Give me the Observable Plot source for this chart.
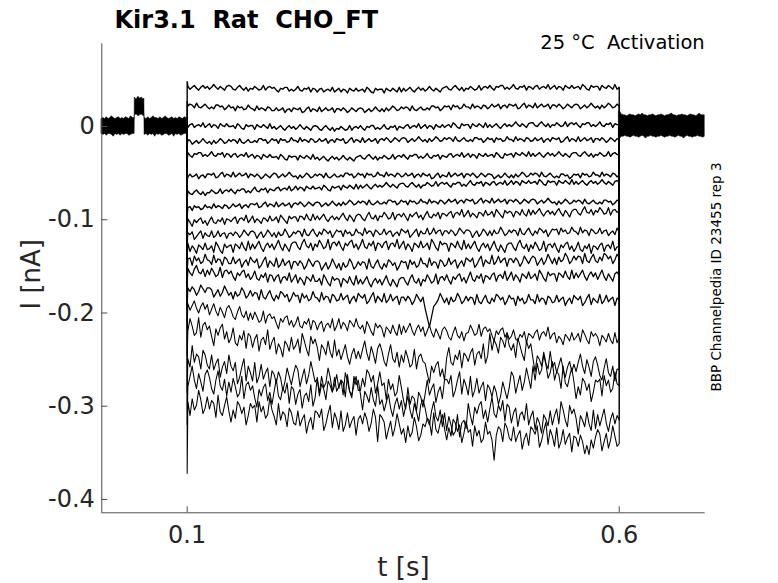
<!DOCTYPE html>
<html>
<head>
<meta charset="utf-8">
<script src="https://cdn.jsdelivr.net/npm/d3@7"></script>
<script src="https://cdn.jsdelivr.net/npm/@observablehq/plot@0.6"></script>
<style>
  html, body { margin: 0; padding: 0; background: #fff; }
  svg text { white-space: pre; }
</style>
</head>
<body>
<div id="chart"></div>
<script>
// ---- text ----
const titleText = "Kir3.1  Rat  CHO_FT";
const conditionText = "25 °C  Activation";
const sideText = "BBP Channelpedia ID 23455 rep 3";
const xLabel = "t [s]";
const yLabel = "I [nA]";

// ---- axes ----
const xDomain = [0.0012, 0.6995];
const yDomain = [-0.4143, 0.0887];
const xTicks = [0.1, 0.6];
const yTicks = [0, -0.1, -0.2, -0.3, -0.4];

// ---- step protocol (s) ----
const stepOn = 0.1;
const stepOff = 0.6;
const firstSample = 0.1008;

// ---- holding-current noise band (pA) before the step ----
const preT  = [0.001,0.003,0.005,0.007,0.009,0.011,0.013,0.015,0.017,0.019,0.021,0.023,0.025,0.027,0.029,0.031,0.033,0.035,0.037,0.0392,
               0.0394,0.0415,0.0435,0.0455,0.0475,0.0495,0.0505,
               0.0507,0.053,0.055,0.057,0.059,0.061,0.063,0.065,0.067,0.069,0.071,0.073,0.075,0.077,0.079,0.081,0.083,0.085,0.087,0.089,0.091,0.093,0.095,0.097,0.0995];
const preHi = [8,9,8,10,8,9,11,9,8,9,10,8,9,8,10,9,8,11,9,9,
               31,29,32,30,31,29,30,
               9,8,10,8,9,11,9,9,8,10,8,9,11,9,8,9,10,8,9,8,10,9,8,10,9];
const preLo = [-8,-9,-8,-10,-8,-8,-9,-11,-8,-9,-8,-10,-8,-9,-8,-8,-10,-9,-8,-8,
               12,13,11,12,13,11,12,
               -9,-8,-10,-8,-9,-8,-11,-8,-9,-8,-10,-9,-8,-8,-10,-9,-8,-11,-8,-9,-8,-10,-9,-8,-8];

// ---- noise band after the step (pA), sampled every 2 ms from 0.601 s ----
const postStart = 0.601, postStep = 0.002;
const postHi = [16,13,12,12,11,12,13,12,12,11, 12,13,12,14,12,12,11,12,12,13, 12,11,12,12,13,12,11,12,12,13, 14,12,12,11,12,12,13,12,12,11, 12,13,12,12,11,12,14,12,12,12];
const postLo = [-13,-11,-11,-10,-11,-11,-12,-11,-10,-11, -11,-12,-11,-10,-11,-13,-11,-11,-10,-11, -11,-12,-11,-11,-10,-11,-12,-11,-11,-10, -11,-11,-12,-11,-10,-11,-11,-13,-11,-10, -11,-11,-12,-11,-11,-10,-11,-11,-12,-11];

// ---- capacitive transient peak at step onset (pA), one per sweep ----
const onsetPeak = [48,27,4,-20,-36,-58,-78,-95,-112,-126,-142,-157,-172,-193,-215,-245,-285,-320,-372];

// ---- sweeps during the step (pA), 201 samples each from 0.1008 s to 0.6 s ----
const sweep01 = [43,40,42,44,41,39,42,44,41,43, 40,42,45,42,40,43,41,39,43,44, 43,40,39,42,44,41,39,42,38,41, 40,43,41,39,40,44,39,42,43,41,
  42,39,37,41,40,42,42,38,40,38, 40,43,39,38,41,40,42,37,41,40, 37,40,41,37,39,40,38,42,37,39, 41,37,40,39,36,41,39,38,41,38,
  39,40,37,42,40,37,36,41,39,40, 40,36,41,39,38,41,39,37,42,37, 41,38,40,42,39,37,40,42,39,41, 38,40,43,40,38,41,39,37,41,42,
  43,40,39,42,44,41,39,42,38,41, 40,43,41,39,40,44,39,42,43,41, 44,41,39,43,42,44,44,40,42,40, 42,45,41,40,43,42,44,39,43,42,
  40,43,44,40,42,43,41,45,40,42, 44,40,43,42,39,44,42,41,44,41, 42,43,40,45,43,40,39,44,42,43, 43,39,44,42,41,44,42,40,45,40, 42];
const sweep02 = [22,24,23,20,25,21,20,22,24,21, 19,21,19,23,23,21,22,18,20,23, 20,21,17,22,20,21,18,19,23,20, 19,17,22,18,20,19,17,21,20,17,
  17,20,17,18,20,15,18,19,16,20, 19,18,20,15,16,19,21,16,19,18, 16,21,16,18,20,17,18,20,15,19, 19,17,20,18,15,17,20,18,16,19,
  20,19,15,17,19,16,18,21,18,16, 19,16,20,17,19,22,20,17,18,21, 19,21,20,17,22,18,17,19,21,18, 18,20,18,22,22,20,21,17,19,22,
  21,22,18,23,21,22,19,20,24,21, 21,19,24,20,22,21,19,23,22,19, 21,24,21,22,24,19,22,23,20,24, 23,22,24,19,20,23,25,20,23,22,
  20,25,20,22,24,21,22,24,19,23, 23,21,24,22,19,21,24,22,20,23, 24,23,19,21,23,20,22,25,22,20, 22,19,23,20,22,25,23,20,21,24, 22];
const sweep03 = [-1,2,3,-1,1,2,0,4,-1,1, 3,-1,2,1,-2,3,1,0,3,0, 0,1,-2,3,1,-2,-3,2,0,1, 1,-3,2,0,-1,2,0,-2,3,-2,
  0,-3,-1,1,-2,-4,-1,1,-2,0, -3,-1,2,-1,-3,0,-2,-4,0,1, 0,-3,-4,-1,1,-2,-4,-1,-5,-2, -3,0,-2,-4,-3,1,-4,-1,0,-2,
  1,-2,-4,0,-1,1,1,-3,-1,-3, -1,2,-2,-3,0,-1,1,-4,0,-1, -2,1,2,-2,0,1,-1,3,-2,0, 2,-2,1,0,-3,2,0,-1,2,-1,
  1,2,-1,4,2,-1,-2,3,1,2, 2,-2,3,1,0,3,1,-1,4,-1, 2,-1,1,3,0,-2,1,3,0,2, 0,2,5,2,0,3,1,-1,3,4,
  4,1,0,3,5,2,0,3,-1,2, 1,4,2,0,1,5,0,3,4,2, 4,1,-1,3,2,4,4,0,2,0, 2,5,1,0,3,2,4,-1,3,2, 2];
const sweep04 = [-14,-15,-19,-17,-15,-18,-16,-13,-16,-18, -16,-19,-15,-18,-16,-13,-15,-18,-17,-14, -16,-14,-15,-18,-13,-17,-18,-16,-14,-17, -17,-15,-17,-13,-13,-15,-14,-18,-16,-13,
  -15,-14,-18,-13,-15,-14,-17,-16,-12,-15, -15,-17,-12,-16,-14,-15,-17,-13,-14,-17, -16,-13,-16,-15,-13,-18,-15,-14,-17,-13, -14,-15,-13,-18,-17,-14,-12,-17,-14,-15,
  -17,-12,-17,-15,-13,-16,-15,-13,-18,-14, -13,-15,-12,-14,-17,-15,-12,-14,-16,-13, -12,-13,-17,-15,-13,-16,-14,-11,-14,-16, -14,-17,-13,-16,-14,-11,-13,-16,-15,-12,
  -14,-12,-13,-16,-11,-15,-16,-14,-12,-15, -16,-14,-16,-12,-12,-14,-13,-17,-15,-12, -14,-13,-17,-12,-14,-13,-16,-15,-11,-14, -14,-16,-11,-15,-13,-14,-16,-12,-13,-16,
  -15,-12,-15,-14,-12,-17,-14,-13,-16,-12, -13,-14,-12,-17,-16,-13,-11,-16,-13,-14, -16,-11,-16,-14,-12,-15,-14,-12,-17,-13, -13,-15,-12,-14,-17,-15,-12,-14,-16,-13, -14];
const sweep05 = [-28,-31,-33,-29,-30,-28,-28,-32,-30,-32, -30,-27,-31,-32,-29,-30,-28,-33,-29,-30, -33,-30,-29,-33,-31,-30,-32,-28,-33,-31, -30,-34,-31,-32,-35,-30,-32,-33,-30,-33,
  -33,-32,-35,-30,-32,-35,-36,-31,-33,-32, -32,-36,-31,-33,-34,-31,-33,-35,-30,-35, -33,-36,-34,-32,-35,-37,-34,-32,-35,-33, -36,-34,-31,-34,-36,-33,-35,-37,-33,-32,
  -31,-34,-35,-32,-30,-33,-35,-32,-36,-33, -34,-31,-33,-35,-34,-30,-35,-32,-31,-33, -30,-33,-35,-31,-32,-30,-30,-34,-32,-34, -32,-29,-33,-34,-31,-32,-30,-35,-31,-32,
  -33,-30,-29,-33,-31,-30,-32,-28,-33,-31, -29,-33,-30,-31,-34,-29,-31,-32,-29,-32, -31,-30,-33,-28,-30,-33,-34,-29,-31,-30, -29,-33,-28,-30,-31,-28,-30,-32,-27,-32,
  -29,-32,-30,-28,-31,-33,-30,-28,-31,-29, -32,-30,-27,-30,-32,-29,-31,-33,-29,-28, -28,-31,-32,-29,-27,-30,-32,-29,-33,-30, -31,-28,-30,-32,-31,-27,-32,-29,-28,-30, -31];
const sweep06 = [-54,-51,-54,-53,-51,-56,-53,-52,-55,-51, -51,-52,-50,-55,-54,-51,-49,-54,-51,-52, -54,-49,-54,-52,-50,-53,-52,-50,-55,-51, -52,-54,-51,-53,-56,-54,-51,-53,-55,-52,
  -50,-51,-55,-53,-51,-54,-52,-49,-52,-54, -53,-56,-52,-55,-53,-50,-52,-55,-54,-51, -53,-51,-52,-55,-50,-54,-55,-53,-51,-54, -54,-52,-54,-50,-50,-52,-51,-55,-53,-50,
  -52,-51,-55,-50,-52,-51,-54,-53,-49,-52, -52,-54,-49,-53,-51,-52,-54,-50,-51,-54, -53,-50,-53,-52,-50,-55,-52,-51,-54,-50, -52,-53,-51,-56,-55,-52,-50,-55,-52,-53,
  -54,-49,-54,-52,-50,-53,-52,-50,-55,-51, -51,-53,-50,-52,-55,-53,-50,-52,-54,-51, -51,-52,-56,-54,-52,-55,-53,-50,-53,-55, -52,-55,-51,-54,-52,-49,-51,-54,-53,-50,
  -52,-50,-51,-54,-49,-53,-54,-52,-50,-53, -55,-53,-55,-51,-51,-53,-52,-56,-54,-51, -52,-51,-55,-50,-52,-51,-54,-53,-49,-52, -52,-54,-49,-53,-51,-52,-54,-50,-51,-54, -52];
const sweep07 = [-69,-72,-73,-70,-68,-71,-73,-70,-74,-71, -71,-68,-70,-72,-71,-67,-72,-69,-68,-70, -67,-70,-72,-68,-69,-67,-67,-71,-69,-71, -68,-65,-69,-70,-67,-68,-66,-71,-67,-68,
  -69,-66,-65,-69,-67,-66,-68,-64,-69,-67, -64,-68,-65,-66,-69,-64,-66,-67,-64,-67, -66,-65,-68,-63,-65,-68,-69,-64,-66,-65, -64,-68,-63,-65,-66,-63,-65,-67,-62,-67,
  -63,-66,-64,-62,-65,-67,-64,-62,-65,-63, -65,-63,-60,-63,-65,-62,-64,-66,-62,-61, -61,-64,-65,-62,-60,-63,-65,-62,-66,-63, -63,-60,-62,-64,-63,-59,-64,-61,-60,-62,
  -60,-63,-65,-61,-62,-60,-60,-64,-62,-64, -61,-58,-62,-63,-60,-61,-59,-64,-60,-61, -63,-60,-59,-63,-61,-60,-62,-58,-63,-61, -58,-62,-59,-60,-63,-58,-60,-61,-58,-61,
  -60,-59,-62,-57,-59,-62,-63,-58,-60,-59, -59,-63,-58,-60,-61,-58,-60,-62,-57,-62, -59,-62,-60,-58,-61,-63,-60,-58,-61,-59, -62,-60,-57,-60,-62,-59,-61,-63,-59,-58, -60];
const sweep08 = [-87,-86,-90,-85,-87,-86,-89,-88,-84,-87, -86,-88,-83,-87,-85,-86,-88,-84,-85,-88, -86,-83,-86,-85,-83,-88,-85,-84,-87,-83, -83,-84,-82,-87,-86,-83,-81,-86,-83,-84,
  -86,-81,-86,-84,-82,-85,-84,-82,-87,-83, -82,-84,-81,-83,-86,-84,-81,-83,-85,-82, -81,-82,-86,-84,-82,-85,-83,-80,-83,-85, -82,-85,-81,-84,-82,-79,-81,-84,-83,-80,
  -82,-80,-81,-84,-79,-83,-84,-82,-80,-83, -83,-81,-83,-79,-79,-81,-80,-84,-82,-79, -81,-80,-84,-79,-81,-80,-83,-82,-78,-81, -81,-83,-78,-82,-80,-81,-83,-79,-80,-83,
  -81,-78,-81,-80,-78,-83,-80,-79,-82,-78, -79,-80,-78,-83,-82,-79,-77,-82,-79,-80, -82,-77,-82,-80,-78,-81,-80,-78,-83,-79, -79,-81,-78,-80,-83,-81,-78,-80,-82,-79,
  -78,-79,-83,-81,-79,-82,-80,-77,-80,-82, -81,-84,-80,-83,-81,-78,-80,-83,-82,-79, -81,-79,-80,-83,-78,-82,-83,-81,-79,-82, -83,-81,-83,-79,-79,-81,-80,-84,-82,-79, -80];
const sweep09 = [-99,-103,-107,-100,-103,-100,-98,-104,-101,-106, -101,-97,-103,-104,-100,-102,-98,-105,-99,-100,
  -102,-99,-97,-104,-99,-98,-101,-95,-103,-100, -96,-103,-99,-101,-104,-98,-99,-102,-96,-101,
  -100,-97,-103,-95,-98,-101,-104,-96,-99,-97, -97,-102,-96,-97,-100,-94,-99,-101,-94,-100,
  -96,-100,-97,-94,-99,-102,-98,-96,-100,-97, -100,-96,-93,-98,-101,-95,-98,-102,-96,-94,
  -95,-99,-101,-96,-92,-98,-99,-95,-101,-96, -97,-92,-95,-99,-98,-92,-100,-95,-94,-97,
  -93,-97,-101,-94,-97,-94,-92,-98,-95,-100, -95,-91,-97,-98,-94,-96,-92,-99,-93,-94,
  -96,-93,-91,-98,-93,-92,-95,-89,-97,-94, -90,-97,-93,-95,-98,-92,-93,-96,-90,-95,
  -94,-91,-97,-89,-92,-95,-98,-90,-93,-91, -92,-97,-91,-92,-95,-89,-94,-96,-89,-95,
  -90,-94,-91,-88,-93,-96,-92,-90,-94,-91, -95,-91,-88,-93,-96,-90,-93,-97,-91,-89,
  -89,-93,-95,-90,-86,-92,-93,-89,-95,-90, -92,-87,-90,-94,-93,-87,-95,-90,-89,-92, -91];
const sweep10 = [-114,-116,-113,-121,-118,-115,-112,-120,-114,-117, -118,-112,-119,-117,-112,-118,-115,-114,-120,-115,
  -114,-117,-113,-115,-119,-116,-111,-114,-117,-113, -112,-114,-120,-116,-113,-119,-116,-111,-114,-118,
  -114,-119,-113,-117,-116,-110,-114,-119,-117,-113, -115,-112,-113,-118,-110,-116,-117,-113,-110,-115,
  -118,-113,-116,-110,-112,-115,-112,-119,-115,-111, -113,-112,-118,-111,-115,-113,-117,-116,-110,-114,
  -114,-117,-109,-115,-112,-113,-118,-111,-113,-116, -115,-110,-116,-113,-112,-118,-115,-113,-117,-110,
  -112,-114,-111,-119,-116,-113,-110,-118,-112,-115, -115,-109,-116,-114,-109,-115,-112,-111,-117,-112,
  -112,-115,-111,-113,-117,-114,-109,-112,-115,-111, -111,-113,-119,-115,-112,-118,-115,-110,-113,-117,
  -112,-117,-111,-115,-114,-108,-112,-117,-115,-111, -114,-111,-112,-117,-109,-115,-116,-112,-109,-114,
  -117,-112,-115,-109,-111,-114,-111,-118,-114,-110, -111,-110,-116,-109,-113,-111,-115,-114,-108,-112,
  -113,-116,-108,-114,-111,-112,-117,-110,-112,-115, -114,-109,-115,-112,-111,-117,-114,-112,-116,-109, -113];
const sweep11 = [-125,-134,-128,-131,-136,-127,-129,-132,-125,-132, -131,-128,-135,-124,-128,-133,-136,-126,-130,-128,
  -127,-135,-126,-128,-131,-124,-130,-133,-123,-132, -126,-131,-127,-123,-130,-134,-128,-125,-130,-126,
  -132,-127,-122,-129,-133,-126,-130,-134,-126,-124, -124,-129,-132,-125,-121,-128,-130,-125,-133,-126,
  -129,-122,-126,-131,-129,-121,-132,-125,-124,-128, -123,-129,-133,-125,-128,-124,-122,-130,-126,-132,
  -127,-121,-129,-131,-125,-128,-123,-133,-125,-126, -130,-125,-123,-132,-126,-125,-129,-121,-131,-127,
  -123,-132,-126,-129,-134,-125,-127,-130,-123,-130, -128,-125,-132,-121,-125,-130,-133,-123,-127,-125,
  -126,-134,-125,-127,-130,-123,-129,-132,-122,-131, -126,-131,-127,-123,-130,-134,-128,-125,-130,-126,
  -133,-128,-123,-130,-134,-127,-131,-135,-127,-125, -125,-130,-133,-126,-122,-129,-131,-126,-134,-127,
  -131,-124,-128,-133,-131,-123,-134,-127,-126,-130, -125,-131,-135,-127,-130,-126,-124,-132,-128,-134,
  -130,-124,-132,-134,-128,-131,-126,-136,-128,-129, -132,-127,-125,-134,-128,-127,-131,-123,-133,-129, -129];
const sweep12 = [-142,-141,-149,-139,-144,-141,-147,-145,-137,-143, -144,-148,-138,-146,-142,-143,-149,-140,-142,-147,
  -147,-140,-147,-144,-142,-151,-146,-143,-149,-140, -144,-146,-142,-152,-149,-144,-140,-151,-144,-147,
  -150,-141,-151,-148,-142,-149,-146,-144,-153,-145, -145,-149,-144,-147,-153,-149,-142,-146,-150,-145,
  -144,-146,-154,-150,-146,-153,-149,-142,-147,-152, -147,-154,-146,-151,-149,-142,-146,-153,-150,-145,
  -149,-145,-146,-153,-142,-150,-152,-147,-143,-150, -153,-147,-151,-143,-145,-149,-146,-154,-150,-144,
  -146,-145,-153,-143,-148,-145,-151,-149,-141,-147, -147,-151,-141,-149,-145,-146,-152,-143,-145,-150,
  -148,-141,-148,-145,-143,-152,-147,-144,-150,-141, -143,-145,-141,-151,-148,-143,-139,-150,-143,-146,
  -147,-138,-148,-145,-139,-146,-143,-141,-150,-142, -142,-146,-141,-144,-150,-146,-139,-143,-147,-142,
  -139,-141,-149,-145,-141,-148,-144,-137,-142,-147, -141,-148,-140,-145,-143,-136,-140,-147,-144,-139,
  -143,-139,-140,-147,-136,-144,-146,-141,-137,-144, -146,-140,-144,-136,-138,-142,-139,-147,-143,-137, -141];
const sweep13 = [-152,-157,-160,-153,-149,-156,-158,-153,-161,-154, -159,-152,-156,-161,-159,-151,-162,-155,-154,-158,
  -155,-161,-165,-157,-160,-156,-154,-162,-158,-164, -161,-155,-163,-165,-159,-162,-157,-167,-159,-160,
  -166,-161,-159,-168,-162,-161,-165,-157,-167,-163, -159,-168,-162,-165,-170,-161,-163,-166,-159,-166,
  -166,-163,-170,-159,-163,-168,-171,-161,-165,-163, -164,-172,-163,-165,-168,-161,-167,-170,-160,-169,
  -164,-169,-165,-161,-168,-172,-166,-163,-168,-164, -170,-165,-160,-167,-171,-164,-168,-172,-164,-162,
  -162,-167,-170,-163,-159,-166,-168,-163,-171,-164, -166,-159,-163,-168,-166,-158,-169,-162,-161,-165,
  -159,-165,-169,-161,-164,-160,-158,-166,-162,-168, -162,-156,-164,-166,-160,-163,-158,-168,-160,-161,
  -164,-159,-157,-166,-160,-159,-163,-155,-165,-161, -156,-165,-159,-162,-167,-158,-160,-163,-156,-163,
  -161,-158,-165,-154,-158,-163,-166,-156,-160,-158, -158,-166,-157,-159,-162,-155,-161,-164,-154,-163,
  -157,-162,-158,-154,-161,-165,-159,-156,-161,-157, -164,-159,-154,-161,-165,-158,-162,-166,-158,-156, -160];
const sweep14 = [-173,-177,-172,-175,-181,-177,-170,-174,-178,-173, -173,-175,-183,-179,-175,-182,-178,-171,-176,-181,
  -178,-185,-177,-182,-180,-173,-177,-184,-181,-176, -182,-178,-179,-186,-175,-183,-185,-180,-176,-183,
  -187,-181,-185,-177,-179,-183,-180,-188,-184,-178, -182,-181,-189,-179,-184,-181,-187,-185,-177,-183,
  -184,-188,-178,-186,-182,-183,-189,-180,-182,-187, -186,-179,-186,-183,-181,-190,-185,-182,-188,-179,
  -182,-184,-180,-190,-187,-182,-178,-189,-182,-185, -188,-179,-189,-186,-180,-187,-184,-182,-191,-183,
  -183,-187,-182,-185,-191,-187,-180,-184,-188,-183, -195,-205,-215,-204,-193,-190,-186,-179,-184,-189,
  -184,-191,-183,-188,-186,-179,-183,-190,-187,-182, -187,-183,-184,-191,-180,-188,-190,-185,-181,-188,
  -190,-184,-188,-180,-182,-186,-183,-191,-187,-181, -185,-184,-192,-182,-187,-184,-190,-188,-180,-186,
  -186,-190,-180,-188,-184,-185,-191,-182,-184,-189, -188,-181,-188,-185,-183,-192,-187,-184,-190,-181,
  -184,-186,-182,-192,-189,-184,-180,-191,-184,-187, -189,-180,-190,-187,-181,-188,-185,-183,-192,-184, -186];
const sweep15 = [-190,-197,-192,-187,-195,-200,-193,-189,-196,-191, -202,-196,-190,-198,-203,-194,-199,-205,-195,-192,
  -197,-204,-207,-199,-193,-202,-205,-198,-208,-200, -207,-199,-204,-210,-208,-198,-211,-203,-201,-206,
  -204,-211,-217,-206,-210,-205,-203,-213,-208,-215, -211,-204,-214,-216,-209,-212,-206,-218,-208,-210,
  -218,-212,-209,-220,-213,-211,-216,-206,-219,-214, -206,-217,-210,-213,-219,-208,-211,-215,-206,-214,
  -217,-213,-222,-209,-214,-220,-224,-211,-216,-213, -217,-226,-215,-218,-222,-213,-220,-224,-212,-223,
  -214,-221,-216,-211,-219,-224,-217,-213,-220,-215, -225,-219,-213,-221,-226,-217,-222,-228,-218,-215,
  -219,-226,-229,-221,-215,-224,-227,-220,-230,-222, -221,-213,-218,-224,-222,-212,-225,-217,-215,-220,
  -217,-224,-230,-219,-223,-218,-216,-226,-221,-228, -225,-218,-228,-230,-223,-226,-220,-232,-222,-224,
  -227,-221,-218,-229,-222,-220,-225,-215,-228,-223, -221,-232,-225,-228,-234,-223,-226,-230,-221,-229,
  -226,-222,-231,-218,-223,-229,-233,-220,-225,-222, -226,-235,-224,-227,-231,-222,-229,-233,-221,-232, -226];
const sweep16 = [-219,-206,-214,-224,-221,-205,-226,-213,-210,-218, -214,-225,-235,-217,-224,-216,-212,-228,-220,-232,
  -227,-216,-232,-235,-224,-229,-219,-238,-222,-225, -237,-228,-223,-241,-229,-226,-234,-218,-239,-231,
  -226,-244,-233,-238,-247,-230,-234,-241,-226,-239, -235,-228,-243,-222,-230,-239,-246,-225,-233,-228,
  -237,-251,-234,-238,-245,-230,-242,-248,-229,-246, -239,-250,-242,-234,-247,-255,-244,-238,-249,-241,
  -249,-239,-230,-243,-251,-236,-244,-254,-238,-233, -241,-252,-257,-244,-234,-249,-253,-242,-258,-245,
  -253,-240,-248,-258,-255,-239,-260,-247,-244,-252, -254,-265,-275,-257,-264,-256,-252,-268,-260,-272,
  -248,-237,-253,-256,-245,-250,-240,-259,-243,-246, -252,-243,-238,-256,-244,-241,-249,-233,-254,-246,
  -222,-240,-229,-234,-243,-226,-230,-237,-222,-235, -240,-233,-248,-227,-235,-244,-251,-230,-238,-233,
  -249,-263,-246,-250,-257,-242,-254,-260,-241,-258, -253,-264,-256,-248,-261,-269,-258,-252,-263,-255,
  -263,-253,-244,-257,-265,-250,-258,-268,-252,-247, -256,-267,-272,-259,-249,-264,-268,-257,-273,-260, -261];
const sweep17 = [-249,-258,-235,-253,-244,-247,-260,-240,-245,-256, -260,-245,-261,-254,-249,-269,-258,-252,-265,-245,
  -257,-262,-253,-276,-269,-258,-249,-273,-257,-264, -273,-253,-275,-268,-255,-271,-264,-259,-279,-262,
  -266,-275,-263,-270,-283,-274,-259,-268,-277,-265, -256,-261,-279,-269,-260,-276,-267,-252,-263,-274,
  -271,-286,-268,-280,-275,-259,-269,-284,-278,-266, -281,-272,-275,-290,-266,-284,-288,-277,-268,-283,
  -283,-270,-279,-261,-265,-274,-267,-286,-276,-263, -278,-275,-293,-271,-282,-276,-289,-285,-267,-280,
  -294,-303,-280,-298,-289,-292,-305,-285,-290,-301, -287,-272,-288,-281,-276,-296,-285,-279,-292,-272,
  -271,-276,-267,-290,-283,-272,-263,-287,-271,-278, -288,-268,-290,-283,-270,-286,-279,-274,-294,-277,
  -281,-290,-278,-285,-298,-289,-274,-283,-292,-280, -263,-268,-286,-276,-267,-283,-274,-259,-270,-281,
  -257,-272,-254,-266,-261,-245,-255,-270,-264,-252, -272,-263,-266,-281,-257,-275,-279,-268,-259,-274,
  -292,-279,-288,-270,-274,-283,-276,-295,-285,-272, -274,-271,-289,-267,-278,-272,-285,-281,-263,-276, -278];
const sweep18 = [-279,-268,-257,-272,-281,-265,-274,-284,-266,-261, -269,-281,-287,-272,-262,-278,-283,-271,-289,-274,
  -285,-270,-279,-290,-286,-268,-292,-277,-274,-283, -278,-291,-301,-282,-289,-280,-276,-294,-285,-298,
  -284,-271,-289,-293,-280,-286,-275,-297,-279,-282, -298,-287,-282,-302,-289,-286,-295,-277,-300,-291,
  -269,-289,-276,-282,-293,-273,-278,-285,-269,-284, -279,-272,-288,-264,-273,-284,-291,-268,-277,-272,
  -287,-304,-284,-289,-296,-280,-293,-300,-278,-298, -293,-305,-296,-287,-302,-311,-298,-291,-303,-294,
  -311,-300,-289,-304,-313,-297,-306,-316,-298,-293, -302,-314,-320,-305,-295,-311,-316,-304,-322,-307,
  -326,-311,-320,-331,-327,-309,-333,-318,-315,-324, -297,-310,-320,-301,-308,-299,-295,-313,-304,-317,
  -303,-290,-308,-312,-299,-305,-294,-316,-298,-301, -318,-307,-302,-322,-309,-306,-315,-297,-320,-311,
  -305,-325,-312,-318,-329,-309,-314,-321,-305,-320, -310,-303,-319,-295,-304,-315,-322,-299,-308,-303,
  -313,-330,-310,-315,-322,-306,-319,-326,-304,-324, -309,-321,-312,-303,-318,-327,-314,-307,-319,-310, -315];
const sweep19 = [-295,-310,-292,-304,-299,-283,-293,-308,-302,-290, -303,-294,-297,-312,-288,-306,-310,-299,-290,-305,
  -317,-304,-313,-295,-299,-308,-301,-320,-310,-297, -302,-299,-317,-295,-306,-300,-313,-309,-291,-304,
  -311,-320,-297,-315,-306,-309,-322,-302,-307,-318, -320,-305,-321,-314,-309,-329,-318,-312,-325,-305,
  -307,-312,-303,-326,-319,-308,-299,-323,-307,-314, -325,-305,-327,-320,-307,-323,-316,-311,-331,-314,
  -310,-319,-307,-314,-327,-318,-303,-312,-338,-309, -312,-317,-335,-325,-316,-332,-323,-308,-319,-330,
  -324,-339,-321,-333,-328,-312,-322,-337,-331,-319, -322,-313,-316,-331,-307,-325,-329,-318,-309,-324,
  -336,-323,-332,-314,-318,-327,-320,-339,-329,-316, -328,-325,-343,-321,-332,-326,-339,-335,-317,-330,
  -327,-336,-358,-331,-322,-325,-338,-318,-323,-334, -337,-322,-338,-331,-326,-346,-335,-329,-342,-322,
  -325,-330,-321,-344,-337,-326,-317,-341,-325,-332, -343,-323,-345,-338,-325,-341,-334,-329,-349,-332,
  -334,-343,-331,-338,-351,-342,-352,-336,-345,-333, -325,-330,-348,-338,-329,-345,-336,-321,-332,-343, -340];

const sweeps = [sweep01,sweep02,sweep03,sweep04,sweep05,sweep06,sweep07,sweep08,sweep09,sweep10,
                sweep11,sweep12,sweep13,sweep14,sweep15,sweep16,sweep17,sweep18,sweep19];

// ---- build tables ----
const pA = v => v / 1000;
const traceRows = [];
sweeps.forEach((s, k) => {
  const n = s.length;
  traceRows.push({sweep: k, t: stepOn, I: 0});
  traceRows.push({sweep: k, t: stepOn, I: pA(onsetPeak[k])});
  s.forEach((v, i) => traceRows.push({sweep: k, t: firstSample + i * (stepOff - firstSample) / (n - 1), I: pA(v)}));
  traceRows.push({sweep: k, t: stepOff, I: 0});
});
const preRows = preT.map((t, i) => ({t, lo: pA(preLo[i]), hi: pA(preHi[i])}));
const postRows = postHi.map((h, i) => ({t: postStart + i * postStep, lo: pA(postLo[i]), hi: pA(h)}));
postRows.unshift({t: stepOff, lo: pA(postLo[0]), hi: pA(postHi[0])});

const W = 778, H = 583;
const mL = 101.3, mR = 73.3, mT = 43.3, mB = 70.7;
const frameW = W - mL - mR, frameH = H - mT - mB;
const axisColor = "#4d4d4d", labelColor = "#262626";
const font = "DejaVu Sans";

const chart = Plot.plot({
  width: W, height: H,
  marginLeft: mL, marginRight: mR, marginTop: mT, marginBottom: mB,
  style: {fontFamily: font, background: "#fff", overflow: "visible"},
  x: {domain: xDomain, axis: null},
  y: {domain: yDomain, axis: null},
  marks: [
    Plot.areaY(preRows, {x: "t", y1: "lo", y2: "hi", fill: "black", stroke: "black", strokeWidth: 0.5}),
    Plot.areaY(postRows, {x: "t", y1: "lo", y2: "hi", fill: "black", stroke: "black", strokeWidth: 0.5}),
    Plot.line(traceRows, {filter: d => d.sweep < 8, x: "t", y: "I", z: "sweep", stroke: "black", strokeWidth: 1.4, strokeLinejoin: "round"}),
    Plot.line(traceRows, {filter: d => d.sweep >= 8 && d.sweep < 14, x: "t", y: "I", z: "sweep", stroke: "black", strokeWidth: 1.25, strokeLinejoin: "round"}),
    Plot.line(traceRows, {filter: d => d.sweep >= 14, x: "t", y: "I", z: "sweep", stroke: "black", strokeWidth: 1.05, strokeLinejoin: "round"}),
    // axis lines
    Plot.ruleX([xDomain[0]], {stroke: axisColor, strokeWidth: 1}),
    Plot.ruleY([yDomain[0]], {stroke: axisColor, strokeWidth: 1}),
    // inward ticks
    Plot.tickY(yTicks, {y: d => d, stroke: axisColor, insetRight: frameW - 6}),
    Plot.tickX(xTicks, {x: d => d, stroke: axisColor, insetTop: frameH - 6}),
    // tick labels
    Plot.axisY({ticks: yTicks, tickSize: 0, tickPadding: 7, tickFormat: d => String(d), fontSize: 24, fill: labelColor, label: null}),
    Plot.axisX({ticks: xTicks, tickSize: 0, tickPadding: 13, tickFormat: d => String(d), fontSize: 24, fill: labelColor, label: null}),
    // texts
    Plot.text([titleText], {frameAnchor: "top-left", dx: 12.7, dy: -16.3, textAnchor: "start", lineAnchor: "bottom", fontSize: 24, fontWeight: "bold", fill: "#000"}),
    Plot.text([conditionText], {frameAnchor: "top-right", dx: -0.5, dy: 4.7, textAnchor: "end", lineAnchor: "bottom", fontSize: 19.5, fill: "#000"}),
    Plot.text([sideText], {frameAnchor: "right", dx: 15.6, dy: -1.3, rotate: -90, textAnchor: "middle", lineAnchor: "bottom", fontSize: 13.5, fill: "#000"}),
    Plot.text([yLabel], {frameAnchor: "left", dx: -62.3, dy: -4, rotate: -90, textAnchor: "middle", lineAnchor: "bottom", fontSize: 26, fill: labelColor}),
    Plot.text([xLabel], {frameAnchor: "bottom", dx: 0, dy: 62.7, textAnchor: "middle", lineAnchor: "bottom", fontSize: 26, fill: labelColor})
  ]
});
document.getElementById("chart").appendChild(chart);
</script>
</body>
</html>
